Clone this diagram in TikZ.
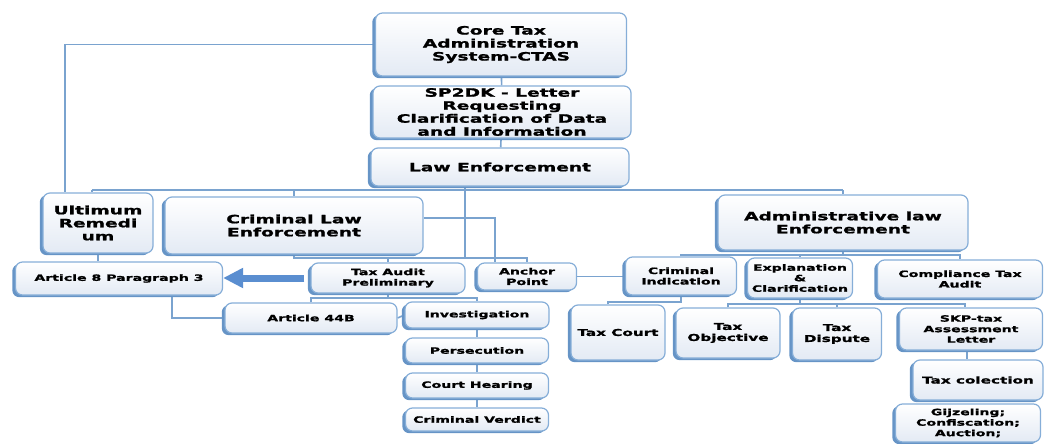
\documentclass[tikz,border=0pt]{standalone}
\usepackage{fontspec}
\newfontfamily\dvb{DejaVu Sans}[FakeStretch=1.62, FakeBold=1.3]
\usetikzlibrary{shadows,arrows.meta,backgrounds}
\definecolor{boxline}{HTML}{86AED8}
\definecolor{shadowc}{HTML}{6694C6}
\definecolor{boxfill}{HTML}{E3EAF4}
\definecolor{linec}{HTML}{7AA3CF}
\definecolor{arrowc}{HTML}{5A8ED0}
\tikzset{
  box/.style={rounded corners=7pt, draw=boxline, line width=1.2pt,
    top color=white, bottom color=boxfill,
    drop shadow={shadow xshift=-3.2pt, shadow yshift=-2.2pt, fill=shadowc, opacity=1},
    align=center, inner sep=1pt, text=black},
  big/.style={box, font=\dvb\bfseries\fontsize{11.5}{13}\selectfont},
  small/.style={box, font=\dvb\bfseries\fontsize{8.7}{10.5}\selectfont},
  mid/.style={box, font=\dvb\bfseries\fontsize{9.4}{11}\selectfont},
  conn/.style={draw=linec, line width=1.6pt},
  bigarrow/.style={draw=arrowc, line width=7pt, -{Triangle[length=20pt 0 0, width=19pt 0 0]}},
  wh/.style 2 args={minimum width=#1pt, minimum height=#2pt}
}
\begin{document}
\begin{tikzpicture}[x=1pt,y=-1pt]
\useasboundingbox (0,0) rectangle (1045,444);
% nodes
\node[big, wh={251}{63}] (ctas) at (501,44.5) {Core Tax\\Administration\\System-CTAS};
\node[big, wh={258}{52}] (sp2dk) at (502,112) {SP2DK - Letter\\Requesting\\Clarification of Data\\and Information};
\node[big, wh={258}{38}] (law) at (500,167) {Law Enforcement};
\node[big, wh={110}{60}] (ult) at (98,223) {Ultimum\\Remedi\\um};
\node[big, wh={258}{57}] (cle) at (294,225.5) {Criminal Law\\Enforcement};
\node[big, wh={250}{55}] (adm) at (843,222.5) {Administrative law\\Enforcement};
\node[small, wh={207}{33}] (a8) at (119,278.5) {Article 8 Paragraph 3};
\node[small, wh={154}{30}] (tap) at (388,278) {Tax Audit\\Preliminary};
\node[small, wh={99}{27}] (anc) at (527,276.5) {Anchor\\Point};
\node[small, wh={111}{38}] (ci) at (681,276) {Criminal\\Indication};
\node[small, wh={105}{40}] (exp) at (800,278) {Explanation\\\&\\Clarification};
\node[small, wh={165}{38}] (cta) at (960,279) {Compliance Tax\\Audit};
\node[small, wh={172}{30}] (a44) at (311,318) {Article 44B};
\node[small, wh={144}{26}] (inv) at (477,315) {Investigation};
\node[small, wh={143}{25}] (per) at (477,350.5) {Persecution};
\node[small, wh={143}{25}] (ch) at (477,385.5) {Court Hearing};
\node[small, wh={143}{23}] (cv) at (477,419.5) {Criminal Verdict};
\node[mid, wh={94}{55}] (tc) at (618,332.5) {Tax Court};
\node[mid, wh={104}{50}] (tob) at (728,333) {Tax\\Objective};
\node[mid, wh={89}{52}] (td) at (837,334) {Tax\\Dispute};
\node[small, wh={143}{42}] (skp) at (971,329) {SKP-tax\\Assessment\\Letter};
\node[mid, wh={130}{40}] (tcol) at (978,380) {Tax colection};
\node[small, wh={145}{38}] (gij) at (968,423) {Gijzeling;\\Confiscation;\\Auction;};
% connectors
\begin{pgfonlayer}{background}
\draw[conn] (ctas) -- (sp2dk) -- (law);
\draw[conn] (ctas.west) -| ([xshift=-33pt]ult.north);
\coordinate (b1L) at (92,190);
\coordinate (b1R) at (843,190);
\draw[conn] (b1L) -- (b1R);
\draw[conn] (b1L) -- (b1L |- ult.north);
\draw[conn] (cle) -- (cle |- b1L);
\draw[conn] (adm) -- (b1R);
\coordinate (b2) at (465,258);
\draw[conn] (law.south -| b2) -- (b2);
\draw[conn] (cle.south) -- (cle.south |- b2) -- (anc.north |- b2) -- (anc.north);
\draw[conn] (tap.north) -- (tap.north |- b2);
\draw[conn] ([yshift=7.5pt]cle.east) -| ([xshift=-32pt]anc.north);
\draw[conn] (ult.south) -- (ult.south |- a8.north);
\draw[conn] ([xshift=53pt]a8.south) |- (a44.west);
\coordinate (b3) at (388,298);
\draw[conn] (tap.south) -- (b3);
\draw[conn] (a44.north) -- (a44.north |- b3) -- (inv.north |- b3) -- (inv.north);
\draw[conn] (a44.east) -- (inv.west);
\draw[conn] (inv) -- (per) -- (ch) -- (cv);
\draw[conn] (anc.east) -- (ci.west |- anc.east);
\coordinate (b4) at (843,255);
\draw[conn] (adm.south) -- (b4);
\draw[conn] (ci.north) -- (ci.north |- b4) -- (cta.north |- b4) -- (cta.north);
\draw[conn] (exp.north) -- (exp.north |- b4);
\coordinate (b5) at (681,302);
\draw[conn] (ci.south) -- (b5) -| ([xshift=-10pt]tc.north);
\coordinate (b6) at (800,304);
\draw[conn] (exp.south) -- (b6);
\draw[conn] (tob.north) -- (tob.north |- b6) -- ([xshift=-6pt]skp.north |- b6) -- ([xshift=-6pt]skp.north);
\draw[conn] (td.north) -- (td.north |- b6);
\draw[conn] ([xshift=-4pt]skp.south) -- ([xshift=-4pt]skp.south |- tcol.north);
\end{pgfonlayer}
\draw[bigarrow] ([xshift=-6pt]tap.west) -- (a8.east |- tap.west);
\end{tikzpicture}
\end{document}
